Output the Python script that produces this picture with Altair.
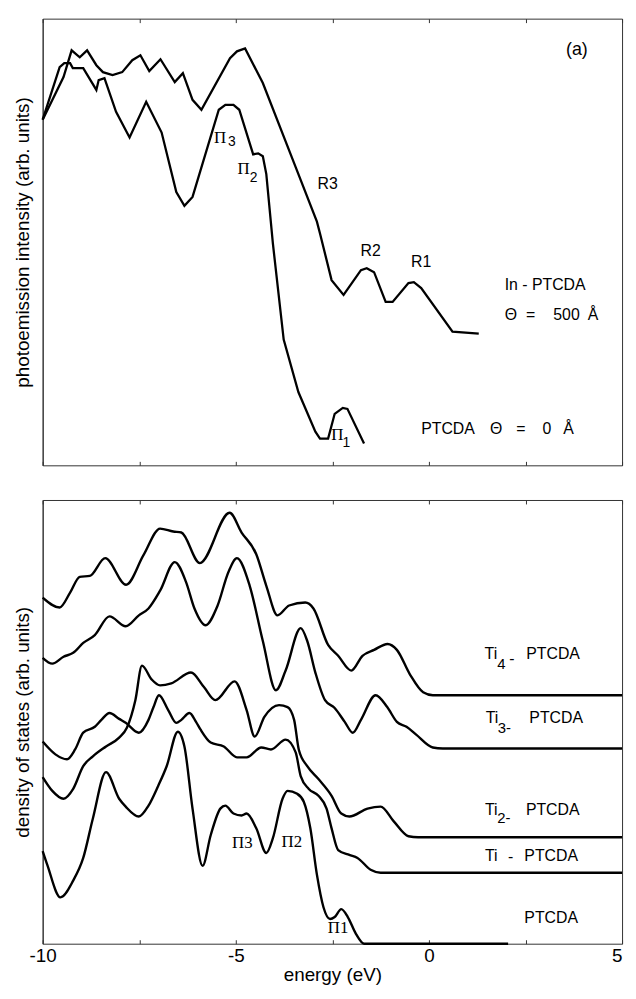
import altair as alt
import pandas as pd

# ---------------- panel (a): photoemission spectra (energy in eV, intensity in arb. units)
IN_PTCDA_ENERGY = [-10.00, -9.46, -9.25, -9.04, -8.85, -8.61, -8.44, -8.19, -7.94, -7.68, -7.47, -7.24,
                   -6.95, -6.58, -6.37, -6.12, -5.89, -5.15, -4.97, -4.76, -4.30, -3.45, -2.90, -2.82,
                   -2.52, -2.21, -1.76, -1.61, -1.42, -1.12, -0.94, -0.53, -0.39, -0.20, 0.61, 1.29]
IN_PTCDA_INTENSITY = [349, 392, 419, 412, 419, 404, 397, 394, 397, 409, 414, 398,
                      410, 387, 396, 369, 359, 411, 418, 421, 386, 301, 246, 234,
                      187, 172, 197, 199, 195, 165, 165, 184, 185, 179, 135, 133]

PTCDA_PES_ENERGY = [-10.00, -9.56, -9.44, -9.29, -9.22, -8.95, -8.61, -8.55, -8.40, -8.10, -7.75, -7.32,
                    -6.92, -6.54, -6.33, -6.12, -5.44, -5.27, -5.06, -4.91, -4.55, -4.42, -4.30, -4.21,
                    -4.04, -3.76, -3.38, -2.94, -2.82, -2.61, -2.44, -2.23, -2.11, -1.68]
PTCDA_PES_INTENSITY = [349, 402, 406, 406, 401, 401, 379, 389, 391, 357, 331, 367,
                       336, 276, 262, 271, 359, 364, 364, 359, 314, 315, 312, 294,
                       224, 127, 74, 34, 27, 27, 52, 58, 57, 22]

# ---------------- panel (b): density of states (energy in eV, DOS in arb. units, offset curves)
TI4_ENERGY = [-10.00, -9.56, -9.29, -9.04, -8.78, -8.38, -7.84, -7.39, -6.96, -6.62, -6.41, -5.93,
              -5.16, -4.85, -4.47, -4.21, -3.92, -3.62, -3.20, -2.99, -2.61, -2.35, -2.01, -1.72,
              -1.42, -1.07, -0.83, -0.49, -0.15, 0.10, 5.00]
TI4_DOS = [351, 341, 356, 372, 373, 391, 364, 394, 421, 418, 417, 386,
           437, 417, 395, 363, 333, 343, 346, 340, 303, 292, 277, 292,
           298, 304, 298, 273, 255, 252, 252]

TI3_ENERGY = [-10.00, -9.75, -9.46, -9.21, -8.95, -8.65, -8.27, -7.85, -7.51, -7.26, -6.96, -6.58,
              -6.29, -6.07, -5.78, -5.48, -5.19, -4.97, -4.64, -4.30, -3.96, -3.71, -3.32, -3.15,
              -2.94, -2.69, -2.44, -2.18, -1.97, -1.76, -1.38, -1.08, -0.83, -0.58, -0.33, 0.10,
              0.36, 5.00]
TI3_DOS = [290, 284, 291, 295, 305, 313, 332, 322, 333, 340, 358, 387,
           367, 340, 323, 342, 377, 391, 363, 307, 257, 277, 320, 307,
           275, 247, 239, 225, 214, 227, 252, 240, 225, 220, 212, 199,
           198, 198]

TI2_ENERGY = [-10.00, -9.75, -9.46, -9.21, -8.95, -8.70, -8.36, -8.02, -7.82, -7.60, -7.43, -7.18,
              -6.96, -6.67, -6.16, -5.82, -5.53, -5.03, -4.72, -4.51, -4.26, -3.88, -3.66, -3.49,
              -3.37, -3.15, -2.86, -2.52, -2.27, -2.06, -1.59, -1.25, -0.91, -0.53, -0.28, 5.00]
TI2_DOS = [169, 155, 147, 157, 180, 190, 200, 209, 219, 247, 282, 268,
           262, 264, 275, 260, 247, 266, 237, 210, 230, 242, 240, 227,
           197, 180, 167, 150, 132, 129, 137, 139, 124, 109, 108, 108]

TI1_ENERGY = [-10.00, -9.67, -9.37, -9.16, -8.95, -8.65, -8.48, -8.27, -8.02, -7.85, -7.51, -7.26,
              -7.13, -6.99, -6.75, -6.54, -6.41, -6.20, -6.03, -5.91, -5.65, -5.31, -4.97, -4.72,
              -4.34, -4.09, -3.71, -3.45, -3.32, -3.11, -2.86, -2.65, -2.52, -2.35, -2.06, -1.85,
              -1.51, -1.25, 5.00]
TI1_DOS = [205, 192, 187, 197, 214, 220, 227, 234, 228, 224, 214, 227,
           240, 252, 237, 224, 227, 234, 225, 217, 204, 200, 189, 189,
           199, 197, 207, 194, 170, 157, 150, 137, 117, 95, 90, 87,
           75, 72, 72]

PTCDA_DOS_ENERGY = [-10.00, -9.88, -9.54, -9.21, -8.95, -8.70, -8.36, -8.02, -7.85, -7.51, -7.26, -7.01,
                    -6.79, -6.50, -6.33, -6.12, -5.86, -5.65, -5.40, -5.27, -5.06, -4.85, -4.72, -4.47,
                    -4.21, -4.04, -3.79, -3.66, -3.41, -3.24, -3.07, -2.90, -2.73, -2.56, -2.44, -2.27,
                    -2.10, -1.89, -1.68, -1.42, 2.05]
PTCDA_DOS = [94, 80, 47, 64, 87, 127, 174, 147, 139, 129, 140, 160,
             180, 215, 200, 137, 79, 110, 137, 140, 132, 130, 132, 117,
             92, 107, 147, 155, 152, 144, 117, 70, 37, 25, 27, 35,
             27, 10, 0, 0, 0]

X_DOMAIN = [-10, 5]
X_TICK_VALUES = [-10, -7.5, -5, -2.5, 0, 2.5, 5]
X_LABEL_VALUES = [-10, -5, 0, 5]
TOP_Y_DOMAIN = [0, 451]
BOTTOM_Y_DOMAIN = [0, 450]

# ---------------- annotations
TOP_CENTER_TEXT = ["R3", "R2", "R1"]
TOP_CENTER_X = [-2.62, -1.51, -0.20]
TOP_CENTER_Y = [284, 216, 205]
PANEL_TAG_TEXT = ["(a)"]
PANEL_TAG_X = [3.83]
PANEL_TAG_Y = [419]
TOP_LEFT_TEXT = ["In - PTCDA", "Θ", "=", "500", "Å", "PTCDA", "Θ", "=", "0", "Å"]
TOP_LEFT_X = [1.96, 1.96, 2.51, 3.22, 4.11, -0.20, 1.58, 2.26, 2.94, 3.48]
TOP_LEFT_Y = [182, 152, 152, 152, 152, 37, 37, 37, 37, 37]
TOP_PI_TEXT = ["Π", "Π", "Π"]
TOP_PI_X = [-5.41, -4.80, -2.37]
TOP_PI_Y = [330, 299, 31]
TOP_PI_SUB_TEXT = ["3", "2", "1"]
TOP_PI_SUB_X = [-5.10, -4.54, -2.14]
TOP_PI_SUB_Y = [326, 290, 23]

BOT_PI_TEXT = ["Π3", "Π2", "Π1"]
BOT_PI_X = [-4.83, -3.55, -2.35]
BOT_PI_Y = [102, 103, 16]
BOT_LEFT_TEXT = ["Ti", "-", "PTCDA", "Ti", "PTCDA", "Ti", "PTCDA", "Ti", "-", "PTCDA", "PTCDA"]
BOT_LEFT_X = [1.44, 2.08, 2.52, 1.47, 2.60, 1.45, 2.51, 1.45, 2.05, 2.47, 2.47]
BOT_LEFT_Y = [294, 289, 294, 229, 229, 136, 136, 89, 88, 89, 26]
BOT_SUB_TEXT = ["4", "3-", "2-"]
BOT_SUB_X = [1.77, 1.78, 1.77]
BOT_SUB_Y = [284, 219, 127]

SANS = "Liberation Sans"
SERIF = "Liberation Serif"
FRAME = "#333333"
PANEL_W = 585
TOP_H = 451
BOT_H = 448

X_SCALE = alt.Scale(domain=X_DOMAIN, nice=False, zero=False)
TOP_Y_SCALE = alt.Scale(domain=TOP_Y_DOMAIN, nice=False, zero=False)
BOT_Y_SCALE = alt.Scale(domain=BOTTOM_Y_DOMAIN, nice=False, zero=False)


def series_frame(items):
    frames = [pd.DataFrame({"energy": e, "value": v, "series": name}) for name, e, v in items]
    return pd.concat(frames, ignore_index=True)


def y_axis(title):
    return alt.Axis(title=title, labels=False, ticks=False, domain=True, domainColor=FRAME,
                    domainWidth=1, grid=False,
                    titleFont=SANS, titleFontSize=19, titleFontWeight="normal",
                    titleColor="black", titlePadding=10)


def x_axis(orient, with_labels=False):
    kw = dict(orient=orient, values=X_TICK_VALUES, domain=False, grid=False, tickSize=4,
              offset=-4, tickColor=FRAME, tickWidth=1, title=None, labels=False)
    if with_labels:
        kw.update(
            labels=True,
            labelExpr=f"indexof({X_LABEL_VALUES}, datum.value) >= 0 ? toString(datum.value) : ''",
            labelAlign=alt.condition(f"datum.value == {X_LABEL_VALUES[-1]}",
                                     alt.value("right"), alt.value("center")),
            labelFont=SANS, labelFontSize=19, labelColor="black", labelPadding=3,
            labelFlush=False, labelOverlap=False,
            title="energy (eV)", titleFont=SANS, titleFontSize=19, titleFontWeight="normal",
            titleColor="black", titlePadding=0,
        )
    return alt.Axis(**kw)


def curve_layer(df, yscale, yaxis, xaxis, interp, width):
    return alt.Chart(df).mark_line(color="black", strokeWidth=width, interpolate=interp).encode(
        x=alt.X("energy:Q", scale=X_SCALE, axis=xaxis),
        y=alt.Y("value:Q", scale=yscale, axis=yaxis),
        detail="series:N",
    )


def text_layer(texts, xs, ys, yscale, yaxis, font, size, align, xaxis=None):
    df = pd.DataFrame({"energy": xs, "value": ys, "label": texts})
    return alt.Chart(df).mark_text(font=font, fontSize=size, align=align, baseline="middle",
                                   color="black").encode(
        x=alt.X("energy:Q", scale=X_SCALE, axis=xaxis),
        y=alt.Y("value:Q", scale=yscale, axis=yaxis),
        text="label:N",
    )


top_df = series_frame([
    ("In-PTCDA", IN_PTCDA_ENERGY, IN_PTCDA_INTENSITY),
    ("PTCDA", PTCDA_PES_ENERGY, PTCDA_PES_INTENSITY),
])
bot_df = series_frame([
    ("Ti4-PTCDA", TI4_ENERGY, TI4_DOS),
    ("Ti3-PTCDA", TI3_ENERGY, TI3_DOS),
    ("Ti2-PTCDA", TI2_ENERGY, TI2_DOS),
    ("Ti-PTCDA", TI1_ENERGY, TI1_DOS),
    ("PTCDA", PTCDA_DOS_ENERGY, PTCDA_DOS),
])

TOP_Y_AXIS = y_axis("photoemission intensity (arb. units)")
BOT_Y_AXIS = y_axis("density of states (arb. units)")

top = alt.layer(
    curve_layer(top_df, TOP_Y_SCALE, TOP_Y_AXIS, x_axis("bottom"), "linear", 2.3),
    text_layer(TOP_CENTER_TEXT, TOP_CENTER_X, TOP_CENTER_Y, TOP_Y_SCALE, TOP_Y_AXIS, SANS, 16, "center", x_axis("top")),
    text_layer(PANEL_TAG_TEXT, PANEL_TAG_X, PANEL_TAG_Y, TOP_Y_SCALE, TOP_Y_AXIS, SANS, 18, "center"),
    text_layer(TOP_LEFT_TEXT, TOP_LEFT_X, TOP_LEFT_Y, TOP_Y_SCALE, TOP_Y_AXIS, SANS, 16, "left"),
    text_layer(TOP_PI_TEXT, TOP_PI_X, TOP_PI_Y, TOP_Y_SCALE, TOP_Y_AXIS, SERIF, 17, "center"),
    text_layer(TOP_PI_SUB_TEXT, TOP_PI_SUB_X, TOP_PI_SUB_Y, TOP_Y_SCALE, TOP_Y_AXIS, SANS, 14, "center"),
).resolve_axis(x="independent").properties(width=PANEL_W, height=TOP_H)

bottom = alt.layer(
    curve_layer(bot_df, BOT_Y_SCALE, BOT_Y_AXIS, x_axis("bottom", True), "monotone", 2.4),
    text_layer(BOT_PI_TEXT, BOT_PI_X, BOT_PI_Y, BOT_Y_SCALE, BOT_Y_AXIS, SERIF, 17, "center", x_axis("top")),
    text_layer(BOT_LEFT_TEXT, BOT_LEFT_X, BOT_LEFT_Y, BOT_Y_SCALE, BOT_Y_AXIS, SANS, 16, "left"),
    text_layer(BOT_SUB_TEXT, BOT_SUB_X, BOT_SUB_Y, BOT_Y_SCALE, BOT_Y_AXIS, SANS, 15, "left"),
).resolve_axis(x="independent").properties(width=PANEL_W, height=BOT_H)

chart = alt.vconcat(top, bottom, spacing=33).properties(
    padding={"left": 5, "right": 0, "top": 5, "bottom": 0}
).configure_view(stroke=FRAME, strokeWidth=1)

chart.save("out.html", embed_options={"renderer": "svg", "actions": False})
